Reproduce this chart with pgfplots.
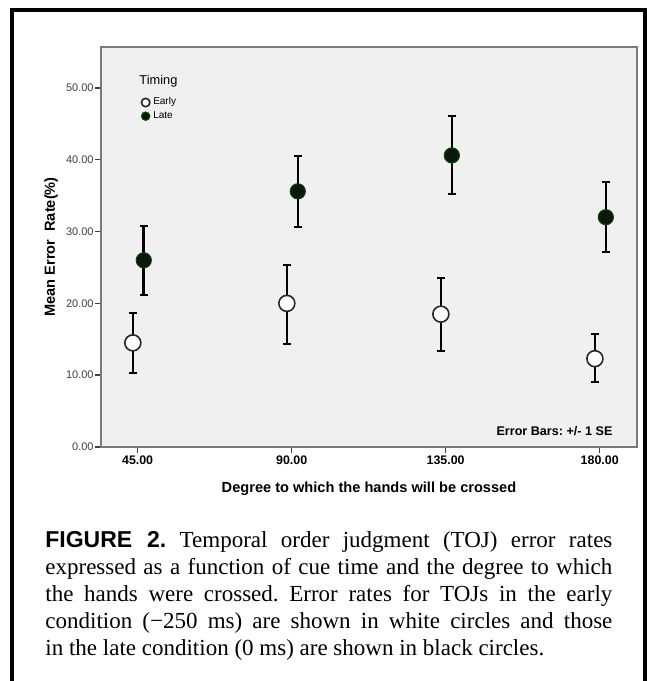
\documentclass[border=0pt]{standalone}
\usepackage{fontspec}
\setmainfont{Liberation Serif}
\newfontfamily\arial{Liberation Sans}
\usepackage{pgfplots}
\usepackage{pgfplotstable}
\pgfplotsset{compat=1.18}

\definecolor{plotbg}{HTML}{F0F0F0}
\definecolor{axisgray}{HTML}{7A7A7A}
\definecolor{latefill}{HTML}{0C180C}

% x = degree of crossing (shifted a little per group), y = mean error rate, ep/em = +/- 1 SE
\pgfplotstableread{
x     y     ep    em
43.6  14.5  4.2   4.2
88.6  20.0  5.4   5.6
133.6 18.5  5.1   5.2
178.6 12.3  3.45  3.3
}\early

\pgfplotstableread{
x     y     ep    em
46.8  26.0  4.8   4.8
91.8  35.6  4.9   5.0
136.8 40.6  5.5   5.4
181.8 32.0  4.9   4.8
}\late

\pgfplotsset{
  sebars/.style={error bars/.cd, y dir=both, y explicit,
    error bar style={black, line width=1.3pt}, error mark=none},
  cap/.style={only marks, mark=-, mark size=2pt,
    mark options={black, line width=1pt}, forget plot},
}

\begin{document}
\frenchspacing
\begin{tikzpicture}[x=1pt,y=1pt]
  \fill[white] (0,0) rectangle (323.5,340.5);
  \useasboundingbox (0,0) rectangle (323.5,340.5);
  \draw[line width=2pt] (6,0) -- (6,335.5) -- (322.5,335.5) -- (322.5,0);

  \begin{axis}[
      at={(50.5pt,117pt)}, anchor=south west,
      scale only axis, width=268pt, height=200pt,
      xmin=34.3, xmax=190.9, ymin=0, ymax=55.7,
      axis background/.style={fill=plotbg},
      axis line style={axisgray, line width=0.8pt},
      tick align=outside, tick pos=left,
      major tick length=3pt,
      tick style={black!75, line width=0.7pt},
      xtick={45,90,135,180},
      xticklabels={45.00,90.00,135.00,180.00},
      ytick={0,10,20,30,40,50},
      yticklabels={0.00,10.00,20.00,30.00,40.00,50.00},
      xticklabel style={font=\arial\bfseries\fontsize{6.2}{7}\selectfont, inner sep=1pt},
      yticklabel style={font=\arial\fontsize{5.5}{6}\selectfont, text=black!75, inner sep=0.5pt},
      xlabel={Degree to which the hands will be crossed},
      ylabel={Mean Error\ \ Rate(\%)},
      xlabel style={font=\arial\bfseries\fontsize{7.3}{8}\selectfont, at={(axis description cs:0.5,-0.105)}, anchor=center},
      ylabel style={font=\arial\bfseries\fontsize{7.3}{8}\selectfont, at={(axis description cs:-0.093,0.5)}, anchor=center},
      legend style={at={(0.074,0.878)}, anchor=north west, draw=none, fill=none,
        font=\arial\fontsize{5}{6}\selectfont, row sep=0.6pt, inner sep=0pt,
        nodes={inner sep=0.6pt}},
      legend cell align=left,
      legend image code/.code={\draw[#1, mark size=2.1pt] plot coordinates {(0cm,0cm)};
        \path (-2.1pt,0) (3pt,0);},
      clip=false,
    ]
    % caps at the ends of the error bars
    \addplot[cap] table[x=x, y expr=\thisrow{y}+\thisrow{ep}] {\early};
    \addplot[cap] table[x=x, y expr=\thisrow{y}-\thisrow{em}] {\early};
    \addplot[cap] table[x=x, y expr=\thisrow{y}+\thisrow{ep}] {\late};
    \addplot[cap] table[x=x, y expr=\thisrow{y}-\thisrow{em}] {\late};

    \addplot[only marks, mark=*, mark size=4pt,
      mark options={fill=white, draw=black!85, line width=0.8pt}, sebars]
      table[x=x, y=y, y error plus=ep, y error minus=em] {\early};
    \addlegendentry{Early}
    \addplot[only marks, mark=*, mark size=3.8pt,
      mark options={fill=latefill, draw=latefill!80!green, line width=0.5pt}, sebars]
      table[x=x, y=y, y error plus=ep, y error minus=em] {\late};
    \addlegendentry{Late}

    \node[anchor=west, font=\arial\fontsize{6.4}{7}\selectfont, inner sep=0pt]
      at (rel axis cs:0.071,0.915) {Timing};
    \node[anchor=east, font=\arial\bfseries\fontsize{6.3}{7}\selectfont, inner sep=0pt]
      at (rel axis cs:0.955,0.040) {Error Bars: +/- 1 SE};
  \end{axis}

  \node[anchor=north west, text width=283.5pt, align=justify, inner sep=0pt,
        font=\fontsize{11.5}{13.5}\selectfont] at (22.5,75)
    {{\arial\bfseries FIGURE 2.} Temporal order judgment (TOJ) error rates\linebreak
     expressed as a function of cue time and the degree to which\linebreak
     the hands were crossed. Error rates for TOJs in the early\linebreak
     condition (−250 ms) are shown in white circles and those\linebreak
     in the late condition (0 ms) are shown in black circles.};
\end{tikzpicture}
\end{document}
